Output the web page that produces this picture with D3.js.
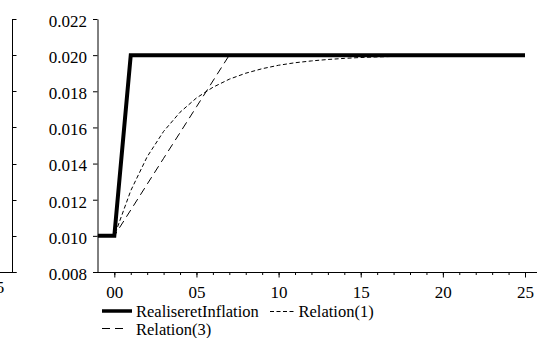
<!DOCTYPE html>
<html>
<head>
<meta charset="utf-8">
<script src="https://cdn.jsdelivr.net/npm/d3@7"></script>
<style>
  html, body { margin: 0; padding: 0; background: #fff; }
  svg { display: block; }
</style>
</head>
<body>
<svg id="chart" width="537" height="338"></svg>
<script>
// Periods (years since the shock) and the three inflation paths
const periods = [-1, 0, 1, 2, 3, 4, 5, 6, 7, 8, 9, 10, 11, 12, 13, 14, 15, 16, 17, 18, 19, 20, 21, 22, 23, 24, 25];
const realiseretInflation = [0.010, 0.010, 0.020, 0.020, 0.020, 0.020, 0.020, 0.020, 0.020, 0.020, 0.020, 0.020, 0.020, 0.020, 0.020, 0.020, 0.020, 0.020, 0.020, 0.020, 0.020, 0.020, 0.020, 0.020, 0.020, 0.020, 0.020];
const relation1 = [0.010, 0.010, 0.0125, 0.01438, 0.01578, 0.01684, 0.01763, 0.01822, 0.01867, 0.01900, 0.01925, 0.01944, 0.01958, 0.01968, 0.01976, 0.01982, 0.01987, 0.01990, 0.01993, 0.01994, 0.01996, 0.01997, 0.01998, 0.01998, 0.01999, 0.01999, 0.01999];
const relation3 = [0.010, 0.010, 0.01143, 0.01286, 0.01429, 0.01571, 0.01714, 0.01857, 0.020, 0.020, 0.020, 0.020, 0.020, 0.020, 0.020, 0.020, 0.020, 0.020, 0.020, 0.020, 0.020, 0.020, 0.020, 0.020, 0.020, 0.020, 0.020];

// Axis ticks and labels
const yTicks = [0.008, 0.010, 0.012, 0.014, 0.016, 0.018, 0.020, 0.022];
const xMajorTicks = [0, 5, 10, 15, 20, 25];
const xMajorLabels = ["00", "05", "10", "15", "20", "25"];
const xMinorTicks = d3.range(0, 26);
const leftPanelLabel = "25";

const legendItems = ["RealiseretInflation", "Relation(1)", "Relation(3)"];

const FONT = "'Liberation Serif', 'DejaVu Serif', 'Times New Roman', serif";

const svg = d3.select("#chart");

const y = d3.scaleLinear().domain([0.008, 0.022]).range([272, 19]);
const x = d3.scaleLinear().domain([-1, 25]).range([97.9, 525]);

// ---- neighbouring panel on the left (only its right frame is in view)
const left = svg.append("g");
const leftX = 12.5;
left.append("line")
  .attr("x1", leftX).attr("x2", leftX)
  .attr("y1", y(0.022)).attr("y2", y(0.008))
  .attr("stroke", "#000").attr("stroke-width", 1);
left.selectAll("line.lt").data(yTicks).join("line")
  .attr("class", "lt")
  .attr("x1", leftX).attr("x2", leftX + 4)
  .attr("y1", d => Math.round(y(d)) + 0.5).attr("y2", d => Math.round(y(d)) + 0.5)
  .attr("stroke", "#000").attr("stroke-width", 1);
left.append("line")
  .attr("x1", -5).attr("x2", leftX + 4)
  .attr("y1", Math.round(y(0.008)) + 0.5).attr("y2", Math.round(y(0.008)) + 0.5)
  .attr("stroke", "#000").attr("stroke-width", 1);
left.append("text")
  .attr("x", -4.3).attr("y", y(0.008) + 21)
  .attr("text-anchor", "middle")
  .style("font-family", FONT).style("font-size", "17px")
  .text(leftPanelLabel);

// ---- main panel
const g = svg.append("g");

// y axis
const yAxis = d3.axisLeft(y)
  .tickValues(yTicks)
  .tickFormat(d3.format(".3f"))
  .tickSize(4.5)
  .tickSizeOuter(0)
  .tickPadding(6);
const ya = g.append("g").attr("transform", "translate(97.5,0)").call(yAxis);
ya.selectAll("text").style("font-family", FONT).style("font-size", "17px").attr("dy", "0.43em").attr("fill", "#000");
ya.select(".domain").attr("stroke", "#000");

// x axis: minor ticks every period, longer major ticks every five
const xBase = Math.round(y(0.008)) + 0.5;
g.append("line")
  .attr("x1", 93).attr("x2", 540)
  .attr("y1", xBase).attr("y2", xBase)
  .attr("stroke", "#000").attr("stroke-width", 1);
g.append("g").attr("transform", `translate(0,${xBase})`)
  .call(d3.axisBottom(x).tickValues(xMinorTicks).tickSize(2.5).tickFormat(""))
  .call(a => a.select(".domain").remove());
const xa = g.append("g").attr("transform", `translate(0,${xBase})`)
  .call(d3.axisBottom(x).tickValues(xMajorTicks).tickSize(5).tickPadding(8)
    .tickFormat((d, i) => xMajorLabels[i]))
  .call(a => a.select(".domain").remove());
xa.selectAll("text").style("font-family", FONT).style("font-size", "17px").attr("dy", "0.71em").attr("fill", "#000");

// series lines
const line = vals => d3.line().x((d, i) => x(periods[i])).y(d => y(d))(vals);

g.append("path").attr("d", line(relation3))
  .attr("fill", "none").attr("stroke", "#000").attr("stroke-width", 1)
  .attr("stroke-dasharray", "8,5");
g.append("path").attr("d", line(relation1))
  .attr("fill", "none").attr("stroke", "#000").attr("stroke-width", 1)
  .attr("stroke-dasharray", "4,2.5");
g.append("path").attr("d", line(realiseretInflation))
  .attr("fill", "none").attr("stroke", "#000").attr("stroke-width", 4)
  .attr("stroke-linejoin", "miter");

// ---- legend
const leg = svg.append("g");
const legText = (sel) => sel.style("font-family", FONT).style("font-size", "16.5px").attr("fill", "#000");
leg.append("line").attr("x1", 102).attr("x2", 132).attr("y1", 311).attr("y2", 311)
  .attr("stroke", "#000").attr("stroke-width", 3.5);
leg.append("text").attr("x", 136).attr("y", 317).call(legText).text(legendItems[0]);

leg.append("line").attr("x1", 270).attr("x2", 295).attr("y1", 311.5).attr("y2", 311.5)
  .attr("stroke", "#000").attr("stroke-width", 1).attr("stroke-dasharray", "4,2.5");
leg.append("text").attr("x", 298.5).attr("y", 317).call(legText).text(legendItems[1]);

leg.append("line").attr("x1", 102).attr("x2", 124).attr("y1", 328.5).attr("y2", 328.5)
  .attr("stroke", "#000").attr("stroke-width", 1).attr("stroke-dasharray", "8,5");
leg.append("text").attr("x", 136).attr("y", 334.5).call(legText).text(legendItems[2]);
</script>
</body>
</html>
